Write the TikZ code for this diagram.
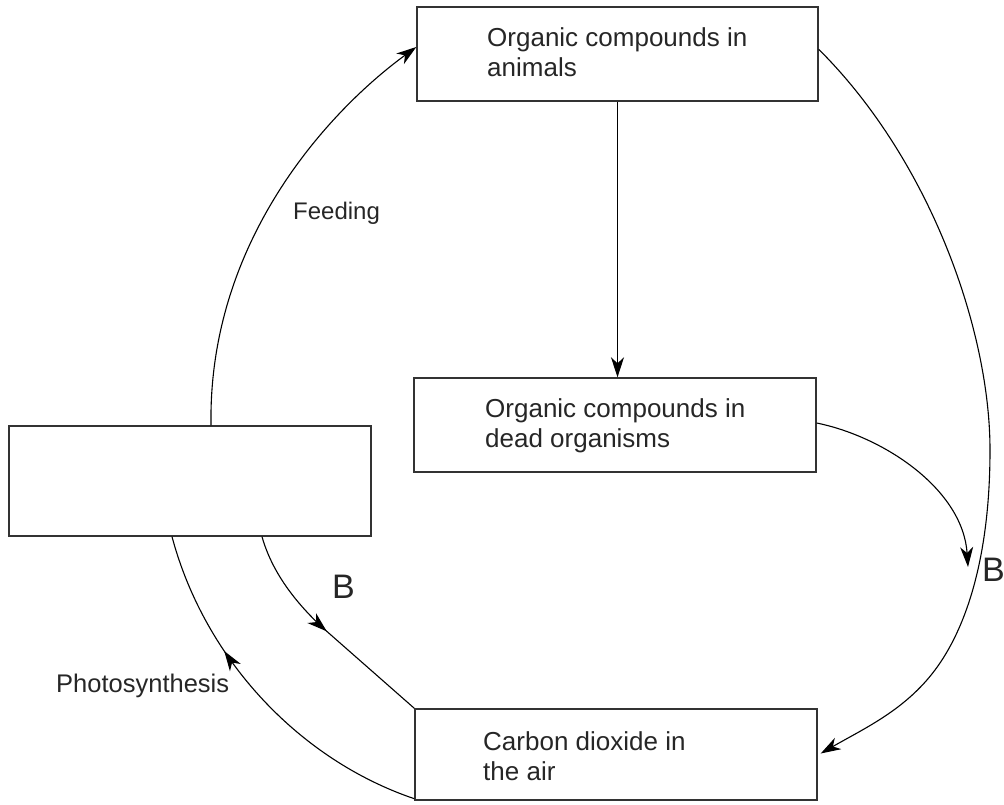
\documentclass[tikz,border=0pt]{standalone}
\usepackage{fontspec}
\setmainfont{Liberation Sans}
\usetikzlibrary{arrows.meta,decorations.markings}
\definecolor{boxline}{HTML}{333333}
\begin{document}
\begin{tikzpicture}[x=1pt,y=-1pt,
  box/.style={draw=boxline, line width=1.4pt, inner sep=0pt},
  conn/.style={line width=1.1pt, -{Stealth[length=20pt,width=13pt,inset=6pt]}},
  plainconn/.style={line width=1.1pt},
  midarrow/.style={postaction={decorate}, decoration={markings, mark=at position #1 with {\arrow{Stealth[length=20pt,width=13pt,inset=6pt]}}}},
  boxtext/.style={anchor=base west, inner sep=0pt, font=\fontsize{26}{30}\selectfont, text=black!85},
  lbl/.style={anchor=base west, inner sep=0pt, font=\fontsize{24}{28}\selectfont, text=black!85},
  blbl/.style={anchor=base west, inner sep=0pt, font=\fontsize{34}{40}\selectfont, text=black!85}
]
\useasboundingbox (0,0) rectangle (1004,805);

% boxes
\node[box, minimum width=401pt, minimum height=94pt] (top) at (617.5,54) {};
\node[box, minimum width=402pt, minimum height=94pt] (mid) at (615,425) {};
\node[box, minimum width=362pt, minimum height=110pt] (left) at (190,481) {};
\node[box, minimum width=402pt, minimum height=91pt] (bot) at (616,754.5) {};

% box texts
\node[boxtext] (t1a) at (487,47) {Organic compounds in};
\node[boxtext] (t1b) at (487,77) {animals};
\node[boxtext] (t2a) at (485,417) {Organic compounds in};
\node[boxtext] (t2b) at (485,447) {dead organisms};
\node[boxtext] (t3a) at (483,750) {Carbon dioxide in};
\node[boxtext] (t3b) at (483,780) {the air};

% labels
\node[lbl] (feed) at (293,220) {Feeding};
\node[lbl, font=\fontsize{25.5}{30}\selectfont] (photo) at (56,692) {Photosynthesis};
\node[blbl] (bl) at (332,598) {B};
\node[blbl] (br) at (982,581) {B};

% junction on the big curve
\coordinate (bj) at (968,567);

% Feeding
\draw[conn] ([xshift=21pt]left.north) .. controls (208,240) and (330,110) .. ([yshift=7pt]top.west);

% animals -> dead organisms
\draw[conn] (top.south) -- (top.south |- mid.north);

% animals -> CO2 (big right curve)
\draw[conn] ([yshift=-43pt]top.north east)
  .. controls (930,160) and (990,330) .. (990,450)
  .. controls (990,560) and (965,630) .. (935,670)
  .. controls (905,710) and (865,728) .. ([xshift=3pt,yshift=1pt]bot.east);

% dead organisms -> junction
\draw[conn] ([yshift=2pt]mid.east) .. controls (885,437) and (963,490) .. (bj);

% B: left box -> CO2
\draw[plainconn, midarrow=0.5] ([xshift=72pt]left.south) .. controls (272,572) and (295,602) .. (323,628) -- (bot.north west);

% Photosynthesis: CO2 -> left box
\draw[plainconn, midarrow=0.66] ([yshift=2pt]bot.south west) .. controls (300,760) and (205,660) .. ([xshift=-18pt]left.south);
\end{tikzpicture}
\end{document}
